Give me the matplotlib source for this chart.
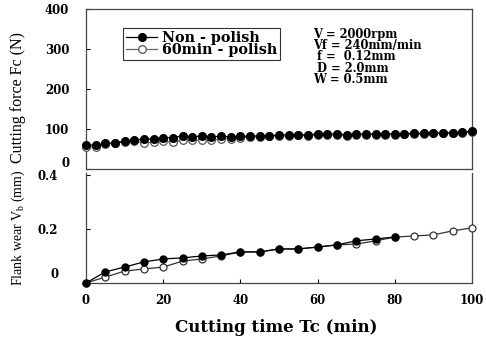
import matplotlib
matplotlib.use("Agg")
import matplotlib.pyplot as plt
import matplotlib.transforms as mtransforms

plt.rcParams['font.family'] = ['DejaVu Serif']
plt.rcParams['mathtext.fontset'] = 'custom'
plt.rcParams['mathtext.rm'] = 'Liberation Serif'
plt.rcParams['mathtext.it'] = 'Liberation Serif:italic'
plt.rcParams['mathtext.bf'] = 'Liberation Serif:bold'

# ---- data ----
force_time = [i * 2.5 for i in range(41)]
force_nonpolish = [60, 60, 64, 65, 70, 72, 75, 75, 78, 78, 83, 80, 83, 80, 82, 80, 82,
                   82, 83, 83, 85, 85, 86, 85, 88, 88, 87, 86, 87, 87, 88, 87, 88, 88,
                   89, 89, 90, 90, 91, 92, 94]
force_polish = [55, 55, 62, 64, 68, 70, 65, 67, 70, 67, 72, 72, 72, 72, 75, 76, 78,
                80, 80, 82, 82, 83, 84, 83, 85, 85, 84, 83, 85, 86, 86, 86, 86, 87,
                87, 88, 89, 89, 90, 91, 93]

wear_time_nonpolish = [0, 5, 10, 15, 20, 25, 30, 35, 40, 45, 50, 55, 60, 65, 70, 75, 80]
wear_nonpolish = [0.0, 0.041, 0.059, 0.078, 0.089, 0.093, 0.100, 0.104, 0.115, 0.115,
                  0.126, 0.126, 0.133, 0.141, 0.156, 0.163, 0.170]
wear_time_polish = [0, 5, 10, 15, 20, 25, 30, 35, 40, 45, 50, 55, 60, 65, 70, 75, 80,
                    85, 90, 95, 100]
wear_polish = [0.0, 0.022, 0.044, 0.052, 0.059, 0.081, 0.089, 0.100, 0.115, 0.115,
               0.126, 0.126, 0.133, 0.141, 0.144, 0.156, 0.170, 0.174, 0.178, 0.193,
               0.204]

force_ticks = [0, 100, 200, 300, 400]
wear_ticks = [0, 0.2, 0.4]
wear_tick_labels = ['0', '0.2', '0.4']
time_ticks = [0, 20, 40, 60, 80, 100]

label_nonpolish = 'Non - polish'
label_polish = '60min - polish'
conditions = 'V = 2000rpm\nVf = 240mm/min\n f =  0.12mm\n D = 2.0mm\nW = 0.5mm'

W, H = 486, 338
fig = plt.figure(figsize=(W / 100, H / 100), dpi=100)

def fx(px):
    return px / W

def fy(py):
    return 1 - py / H

spine_col = '#444444'
tick_font = {'family': 'DejaVu Serif', 'weight': 'bold', 'size': 8.5}

# ---- top axes ----
ax1 = fig.add_axes([fx(86), fy(169), fx(472) - fx(86), fy(9) - fy(169)])
ax1.plot(force_time, force_polish, '-', color='#666666', lw=0.9, marker='o', ms=5.5,
         mfc='white', mec='#555555', mew=0.9, clip_on=False, label=label_polish, zorder=3)
ax1.plot(force_time, force_nonpolish, '-', color='black', lw=0.9, marker='o', ms=5.5,
         mfc='black', mec='black', clip_on=False, label=label_nonpolish, zorder=4)
ax1.set_xlim(0, 100)
ax1.set_ylim(0, 400)
ax1.set_yticks(force_ticks)
ax1.set_yticklabels([str(v) for v in force_ticks], fontdict=tick_font)
ax1.set_xticks([])
ax1.tick_params(axis='y', direction='in', length=3, pad=12, width=0.8)
for s in ax1.spines.values():
    s.set_color(spine_col)
    s.set_linewidth(0.9)
handles, labels = ax1.get_legend_handles_labels()
leg = ax1.legend(handles[::-1], labels[::-1], loc='upper left',
                 bbox_to_anchor=(fx(123), fy(28)), bbox_transform=fig.transFigure,
                 prop={'family': 'DejaVu Serif', 'weight': 'bold', 'size': 10.3},
                 frameon=True, fancybox=False, edgecolor='#333333', framealpha=1,
                 borderpad=0.2, labelspacing=-0.1, handlelength=2.2, handletextpad=0.3,
                 borderaxespad=0)
leg.get_frame().set_linewidth(0.8)
fig.text(fx(313), fy(28), conditions, ha='left', va='top', fontsize=8.3,
         fontweight='bold', linespacing=0.82, family='DejaVu Serif')

# ---- bottom axes ----
ax2 = fig.add_axes([fx(86), fy(283), fx(472) - fx(86), fy(173) - fy(283)])
ax2.plot(wear_time_polish, wear_polish, '-', color='#333333', lw=0.9, marker='o', ms=5,
         mfc='white', mec='#333333', mew=0.9, clip_on=False, zorder=3)
ax2.plot(wear_time_nonpolish, wear_nonpolish, '-', color='black', lw=0.9, marker='o',
         ms=5, mfc='black', mec='black', clip_on=False, zorder=4)
ax2.set_xlim(0, 100)
ax2.set_ylim(0, 0.407)
ax2.set_xticks(time_ticks)
ax2.set_xticklabels([str(v) for v in time_ticks], fontdict=tick_font)
ax2.set_yticks(wear_ticks)
ax2.set_yticklabels(wear_tick_labels, fontdict=tick_font)
ax2.spines['top'].set_visible(False)
for s in ax2.spines.values():
    s.set_color(spine_col)
    s.set_linewidth(0.9)
ax2.tick_params(axis='y', direction='in', length=3, pad=20, width=0.8)
ax2.tick_params(axis='x', direction='in', length=3, pad=8, width=0.8)

# shift the "0" y labels upward as in the reference
for ax, dy in ((ax1, 7), (ax2, 10)):
    lab0 = ax.get_yticklabels()[0]
    lab0.set_transform(lab0.get_transform() +
                       mtransforms.ScaledTranslation(0, dy / 100, fig.dpi_scale_trans))

fig.text(fx(276), fy(327), 'Cutting time Tc (min)', ha='center', va='center',
         fontsize=12, fontweight='bold', family='DejaVu Serif')

fig.text(fx(18), fy(98), 'Cutting force Fc (N)', rotation=90, ha='center', va='center',
         fontsize=11.5, family='Liberation Serif')
fig.text(fx(18), fy(228), r'Flank wear V$_\mathregular{b}$ (mm)', rotation=90,
         ha='center', va='center', fontsize=10, family='Liberation Serif')

fig.savefig('out.png', dpi=100)
